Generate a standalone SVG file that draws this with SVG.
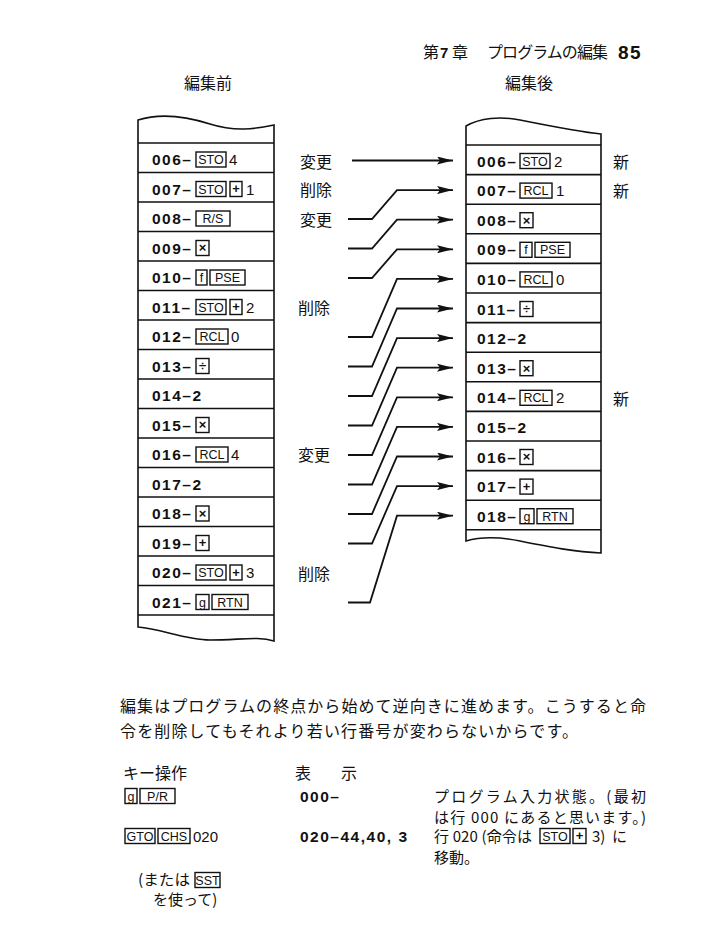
<svg xmlns="http://www.w3.org/2000/svg" width="708" height="935" viewBox="0 0 708 935">
<style>
.num{font-family:"Liberation Sans",Arial,sans-serif;font-weight:bold;font-size:15.5px;letter-spacing:1.5px;fill:#111}
.val{font-family:"Liberation Sans",Arial,sans-serif;font-size:15px;fill:#111}
.key rect{fill:none;stroke:#111;stroke-width:1.4}
.key text{font-family:"Liberation Sans",Arial,sans-serif;font-size:12.5px;text-anchor:middle;fill:#111}
.key text.sym{font-size:13px;font-weight:bold}
.jp{font-family:"Noto Sans CJK JP",sans-serif;font-size:16px;fill:#111}
.jps{font-family:"Noto Sans CJK JP",sans-serif;font-size:15px;fill:#111}
.frame{fill:none;stroke:#111;stroke-width:1.6}
.sep{stroke:#111;stroke-width:1.6}
.conn path{fill:none;stroke:#111;stroke-width:1.8;marker-end:url(#ah)}
</style>
<defs>
<marker id="ah" viewBox="0 0 16 8" refX="16" refY="4" markerUnits="userSpaceOnUse" markerWidth="16" markerHeight="8" orient="auto">
<path d="M0,0 L16,4 L0,8 L3,4 z" fill="#111"/>
</marker>
</defs>
<rect width="708" height="935" fill="#fff"/>

<g id="page-header">
<text class="jp" x="423" y="58" font-size="15">第</text>
<text x="440" y="58" font-family="Liberation Sans,Arial,sans-serif" font-weight="bold" font-size="15" fill="#111">7</text>
<text class="jp" x="452" y="58" font-size="15">章</text>
<text class="jp" x="487" y="58" font-size="15" textLength="121" lengthAdjust="spacing">プログラムの編集</text>
<text x="618" y="59" font-family="Liberation Sans,Arial,sans-serif" font-weight="bold" font-size="19" letter-spacing="1.5" fill="#111">85</text>
</g>

<g id="title-before"><text class="jp" x="208" y="89" text-anchor="middle">編集前</text></g>
<g id="title-after"><text class="jp" x="529" y="89" text-anchor="middle">編集後</text></g>

<g id="table-before">
<path class="frame" d="M138,120 C160,113 185,116 210,124 C235,132 255,129 274,125 L274,641 C258,636 240,640 210,640 C185,640 162,629 138,627 Z"/>
<line class="sep" x1="138" y1="143" x2="274" y2="143"/>
<line class="sep" x1="138" y1="172.5" x2="274" y2="172.5"/>
<line class="sep" x1="138" y1="202" x2="274" y2="202"/>
<line class="sep" x1="138" y1="231.5" x2="274" y2="231.5"/>
<line class="sep" x1="138" y1="261" x2="274" y2="261"/>
<line class="sep" x1="138" y1="290.5" x2="274" y2="290.5"/>
<line class="sep" x1="138" y1="320" x2="274" y2="320"/>
<line class="sep" x1="138" y1="349.5" x2="274" y2="349.5"/>
<line class="sep" x1="138" y1="379" x2="274" y2="379"/>
<line class="sep" x1="138" y1="408.5" x2="274" y2="408.5"/>
<line class="sep" x1="138" y1="438" x2="274" y2="438"/>
<line class="sep" x1="138" y1="467.5" x2="274" y2="467.5"/>
<line class="sep" x1="138" y1="497" x2="274" y2="497"/>
<line class="sep" x1="138" y1="526.5" x2="274" y2="526.5"/>
<line class="sep" x1="138" y1="556" x2="274" y2="556"/>
<line class="sep" x1="138" y1="585.5" x2="274" y2="585.5"/>
<line class="sep" x1="138" y1="615" x2="274" y2="615"/>
</g>

<g id="b006"><text class="num" x="152" y="165">006–</text><g class="key"><rect x="196" y="152" width="30" height="15"/><text x="211" y="164">STO</text></g><text class="val" x="229" y="165">4</text></g>
<g id="b007"><text class="num" x="152" y="194.5">007–</text><g class="key"><rect x="196" y="181.5" width="30" height="15"/><text x="211" y="193.5">STO</text><rect x="230" y="181.5" width="12" height="15"/><text class="sym" x="236" y="193.3">+</text></g><text class="val" x="246" y="194.5">1</text></g>
<g id="b008"><text class="num" x="152" y="224">008–</text><g class="key"><rect x="196" y="211" width="34" height="15"/><text x="213" y="223">R/S</text></g></g>
<g id="b009"><text class="num" x="152" y="253.5">009–</text><g class="key"><rect x="196" y="240.5" width="13" height="15"/><text class="sym" x="202.5" y="252.3">×</text></g></g>
<g id="b010"><text class="num" x="152" y="283">010–</text><g class="key"><rect x="196" y="270" width="11" height="15"/><text x="201.5" y="282">f</text><rect x="210" y="270" width="35" height="15"/><text x="227.5" y="282">PSE</text></g></g>
<g id="b011"><text class="num" x="152" y="312.5">011–</text><g class="key"><rect x="196" y="299.5" width="30" height="15"/><text x="211" y="311.5">STO</text><rect x="230" y="299.5" width="12" height="15"/><text class="sym" x="236" y="311.3">+</text></g><text class="val" x="246" y="312.5">2</text></g>
<g id="b012"><text class="num" x="152" y="342">012–</text><g class="key"><rect x="196" y="329" width="32" height="15"/><text x="212" y="341">RCL</text></g><text class="val" x="231" y="342">0</text></g>
<g id="b013"><text class="num" x="152" y="371.5">013–</text><g class="key"><rect x="196" y="358.5" width="13" height="15"/><text class="sym" x="202.5" y="370.3">÷</text></g></g>
<g id="b014"><text class="num" x="152" y="401">014–2</text></g>
<g id="b015"><text class="num" x="152" y="430.5">015–</text><g class="key"><rect x="196" y="417.5" width="13" height="15"/><text class="sym" x="202.5" y="429.3">×</text></g></g>
<g id="b016"><text class="num" x="152" y="460">016–</text><g class="key"><rect x="196" y="447" width="32" height="15"/><text x="212" y="459">RCL</text></g><text class="val" x="231" y="460">4</text></g>
<g id="b017"><text class="num" x="152" y="489.5">017–2</text></g>
<g id="b018"><text class="num" x="152" y="519">018–</text><g class="key"><rect x="196" y="506" width="13" height="15"/><text class="sym" x="202.5" y="517.8">×</text></g></g>
<g id="b019"><text class="num" x="152" y="548.5">019–</text><g class="key"><rect x="196" y="535.5" width="13" height="15"/><text class="sym" x="202.5" y="547.3">+</text></g></g>
<g id="b020"><text class="num" x="152" y="578">020–</text><g class="key"><rect x="196" y="565" width="30" height="15"/><text x="211" y="577">STO</text><rect x="230" y="565" width="12" height="15"/><text class="sym" x="236" y="576.8">+</text></g><text class="val" x="246" y="578">3</text></g>
<g id="b021"><text class="num" x="152" y="607.5">021–</text><g class="key"><rect x="196" y="594.5" width="13" height="15"/><text x="202.5" y="606.5">g</text><rect x="212" y="594.5" width="36" height="15"/><text x="230" y="606.5">RTN</text></g></g>

<g id="table-after">
<path class="frame" d="M466,126 C480,118 500,116 520,120 C550,126 580,132 601,134 L601,553 C575,552 550,547 520,541 C495,536 480,537 466,541 Z"/>
<line class="sep" x1="466" y1="145" x2="601" y2="145"/>
<line class="sep" x1="466" y1="174.6" x2="601" y2="174.6"/>
<line class="sep" x1="466" y1="204.2" x2="601" y2="204.2"/>
<line class="sep" x1="466" y1="233.8" x2="601" y2="233.8"/>
<line class="sep" x1="466" y1="263.4" x2="601" y2="263.4"/>
<line class="sep" x1="466" y1="293" x2="601" y2="293"/>
<line class="sep" x1="466" y1="322.6" x2="601" y2="322.6"/>
<line class="sep" x1="466" y1="352.2" x2="601" y2="352.2"/>
<line class="sep" x1="466" y1="381.8" x2="601" y2="381.8"/>
<line class="sep" x1="466" y1="411.4" x2="601" y2="411.4"/>
<line class="sep" x1="466" y1="441" x2="601" y2="441"/>
<line class="sep" x1="466" y1="470.6" x2="601" y2="470.6"/>
<line class="sep" x1="466" y1="500.2" x2="601" y2="500.2"/>
<line class="sep" x1="466" y1="529.8" x2="601" y2="529.8"/>
</g>

<g id="a006"><text class="num" x="477" y="166.5">006–</text><g class="key"><rect x="520" y="153.5" width="30" height="15"/><text x="535" y="165.5">STO</text></g><text class="val" x="554" y="166.5">2</text></g>
<g id="a007"><text class="num" x="477" y="196.1">007–</text><g class="key"><rect x="520" y="183.1" width="32" height="15"/><text x="536" y="195.1">RCL</text></g><text class="val" x="556" y="196.1">1</text></g>
<g id="a008"><text class="num" x="477" y="225.7">008–</text><g class="key"><rect x="520" y="212.7" width="13" height="15"/><text class="sym" x="526.5" y="224.5">×</text></g></g>
<g id="a009"><text class="num" x="477" y="255.3">009–</text><g class="key"><rect x="520" y="242.3" width="12" height="15"/><text x="526" y="254.3">f</text><rect x="535" y="242.3" width="35" height="15"/><text x="552.5" y="254.3">PSE</text></g></g>
<g id="a010"><text class="num" x="477" y="284.9">010–</text><g class="key"><rect x="520" y="271.9" width="32" height="15"/><text x="536" y="283.9">RCL</text></g><text class="val" x="556" y="284.9">0</text></g>
<g id="a011"><text class="num" x="477" y="314.5">011–</text><g class="key"><rect x="520" y="301.5" width="13" height="15"/><text class="sym" x="526.5" y="313.3">÷</text></g></g>
<g id="a012"><text class="num" x="477" y="344.1">012–2</text></g>
<g id="a013"><text class="num" x="477" y="373.7">013–</text><g class="key"><rect x="520" y="360.7" width="13" height="15"/><text class="sym" x="526.5" y="372.5">×</text></g></g>
<g id="a014"><text class="num" x="477" y="403.3">014–</text><g class="key"><rect x="520" y="390.3" width="32" height="15"/><text x="536" y="402.3">RCL</text></g><text class="val" x="556" y="403.3">2</text></g>
<g id="a015"><text class="num" x="477" y="432.9">015–2</text></g>
<g id="a016"><text class="num" x="477" y="462.5">016–</text><g class="key"><rect x="520" y="449.5" width="13" height="15"/><text class="sym" x="526.5" y="461.3">×</text></g></g>
<g id="a017"><text class="num" x="477" y="492.1">017–</text><g class="key"><rect x="520" y="479.1" width="13" height="15"/><text class="sym" x="526.5" y="490.9">+</text></g></g>
<g id="a018"><text class="num" x="477" y="521.7">018–</text><g class="key"><rect x="520" y="508.7" width="14" height="15"/><text x="527" y="520.7">g</text><rect x="537" y="508.7" width="36" height="15"/><text x="555" y="520.7">RTN</text></g></g>

<g id="labels">
<text class="jp" x="300" y="167.5">変更</text>
<text class="jp" x="300" y="196">削除</text>
<text class="jp" x="300" y="226">変更</text>
<text class="jp" x="298" y="314">削除</text>
<text class="jp" x="298" y="461">変更</text>
<text class="jp" x="298" y="580">削除</text>
<text class="jp" x="613" y="167.5" font-size="15">新</text>
<text class="jp" x="613" y="197" font-size="15">新</text>
<text class="jp" x="613" y="404.5" font-size="15">新</text>
</g>

<g id="connectors" class="conn">
<path d="M352,160.5 H453"/>
<path d="M348,219 H372 L397,190.1 H453"/>
<path d="M348,248.5 H372 L397,219.7 H453"/>
<path d="M348,278 H372 L397,249.3 H453"/>
<path d="M348,337 H372 L397,278.9 H453"/>
<path d="M348,366.5 H372 L397,308.5 H453"/>
<path d="M348,396 H372 L397,338.1 H453"/>
<path d="M348,425.5 H372 L397,367.7 H453"/>
<path d="M348,455 H372 L397,397.3 H453"/>
<path d="M348,484.5 H372 L397,426.9 H453"/>
<path d="M348,514 H372 L397,456.5 H453"/>
<path d="M348,543.5 H372 L397,486.1 H453"/>
<path d="M348,602.5 H370 L397,515.7 H453"/>
</g>

<g id="paragraph">
<text class="jp" x="120" y="712" textLength="526" lengthAdjust="spacing">編集はプログラムの終点から始めて逆向きに進めます。こうすると命</text>
<text class="jp" x="120" y="737" textLength="458" lengthAdjust="spacing">令を削除してもそれより若い行番号が変わらないからです。</text>
</g>

<g id="col-heads">
<text class="jp" x="123" y="779">キー操作</text>
<text class="jp" x="295" y="779">表</text>
<text class="jp" x="341" y="779">示</text>
</g>
<g id="step1">
<g class="key"><rect x="125" y="788.5" width="12" height="15"/><text x="131" y="800.5">g</text><rect x="140" y="788.5" width="35" height="15"/><text x="157.5" y="800.5">P/R</text></g>
<text class="num" x="300" y="801.5">000–</text>
<text class="jps" x="434" y="802" textLength="212" lengthAdjust="spacing">プログラム入力状態。(最初</text>
<text class="jps" x="434" y="823" textLength="212" lengthAdjust="spacing">は行 000 にあると思います。)</text>
</g>
<g id="step2">
<g class="key"><rect x="125" y="828.5" width="30" height="15"/><text x="140" y="840.5">GTO</text><rect x="158" y="828.5" width="32" height="15"/><text x="174" y="840.5">CHS</text></g>
<text class="val" x="193" y="841.5">020</text>
<text class="num" x="300" y="841.5">020–44,40, 3</text>
<text class="jps" x="434" y="842" textLength="98" lengthAdjust="spacing">行 020 (命令は</text>
<g class="key"><rect x="540" y="828.5" width="30" height="15"/><text x="555" y="840.5">STO</text><rect x="573" y="828.5" width="13" height="15"/><text class="sym" x="579.5" y="840.3">+</text></g>
<text class="jps" x="592" y="842">3)</text>
<text class="jps" x="612" y="842">に</text>
<text class="jps" x="434" y="863">移動。</text>
</g>
<g id="step2-note">
<text class="jps" x="138" y="885" textLength="52" lengthAdjust="spacingAndGlyphs">(または</text>
<g class="key"><rect x="195" y="872.5" width="25" height="15"/><text x="207.5" y="884.5">SST</text></g>
<text class="jps" x="153" y="905">を使って)</text>
</g>
</svg>
